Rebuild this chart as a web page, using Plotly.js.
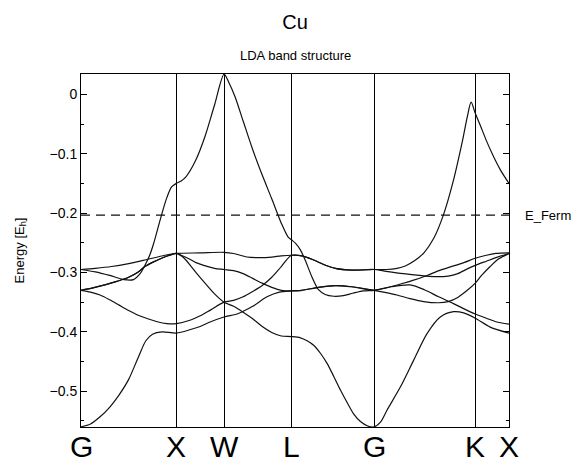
<!DOCTYPE html>
<html>
<head>
<meta charset="utf-8">
<script src="https://cdn.plot.ly/plotly-3.0.1.min.js"></script>
<style>html,body{margin:0;padding:0;background:#fff;}#chart{width:577px;height:462px;}</style>
</head>
<body>
<div id="chart"></div>
<script>
// High-symmetry points along the path (k-distance, units of 2pi/a)
const kNodes = [0, 1, 1.5, 2.2071, 3.0731, 4.1338, 4.4874];
const kLabels = ['G', 'X', 'W', 'L', 'G', 'K', 'X'];

// Fermi energy [Hartree]
const eFermi = -0.2034;

// Band energies [Hartree]
const k1 = [0,0.1,0.2,0.3,0.4,0.5,0.6,0.68,0.75,0.85,1.0, 1.15,1.25,1.36,1.5, 1.65,1.8,1.95,2.08,2.2071, 2.317,2.49,2.666,2.84,3.0731, 3.25,3.45,3.6,3.75,3.9,4.0,4.1338, 4.25,4.35,4.4874];
const e1 = [-0.560,-0.555,-0.543,-0.527,-0.506,-0.480,-0.443,-0.415,-0.404,-0.400,-0.402, -0.396,-0.391,-0.383,-0.375, -0.369,-0.357,-0.341,-0.333,-0.331, -0.330,-0.325,-0.322,-0.324,-0.330, -0.324,-0.321,-0.329,-0.341,-0.352,-0.360,-0.370, -0.377,-0.383,-0.387];

const k2 = [0,0.1,0.2,0.3,0.4,0.5,0.6,0.7,0.8,0.9,1.0, 1.15,1.25,1.36,1.5, 1.6,1.7,1.8,1.9,2.0,2.1,2.2071, 2.317,2.439,2.55,2.666,2.84,3.0731, 3.2,3.382,3.55,3.7,3.85,3.95,4.05,4.1338, 4.25,4.35,4.4874];
const e2 = [-0.330,-0.333,-0.338,-0.346,-0.355,-0.364,-0.372,-0.378,-0.383,-0.386,-0.386, -0.380,-0.373,-0.363,-0.350, -0.347,-0.341,-0.332,-0.322,-0.308,-0.290,-0.271, -0.272,-0.279,-0.287,-0.293,-0.296,-0.295, -0.298,-0.302,-0.305,-0.307,-0.306,-0.302,-0.294,-0.288, -0.281,-0.275,-0.268];

const k3 = [0,0.125,0.25,0.375,0.5,0.6,0.67,0.75,0.845,0.93,1.0, 1.05,1.1,1.15,1.2,1.3,1.4,1.5, 1.6,1.7,1.8,1.9,2.0,2.1,2.2071, 2.3,2.37,2.439,2.51,2.58,2.65,2.72,2.79,2.858,2.93,3.0,3.0731, 3.14,3.208,3.348,3.487,3.628,3.767,3.907,4.012,4.1338, 4.29,4.4874];
const e3 = [-0.330,-0.326,-0.321,-0.315,-0.308,-0.299,-0.290,-0.283,-0.276,-0.271,-0.268, -0.272,-0.279,-0.289,-0.299,-0.318,-0.336,-0.350, -0.357,-0.367,-0.378,-0.391,-0.401,-0.407,-0.408, -0.410,-0.415,-0.4225,-0.436,-0.453,-0.475,-0.498,-0.519,-0.538,-0.551,-0.558,-0.560, -0.552,-0.532,-0.493,-0.448,-0.403,-0.375,-0.366,-0.368,-0.377, -0.392,-0.402];

const k4 = [0,0.15,0.32,0.5,0.67,0.88,1.0, 1.25,1.5, 1.6,1.74,1.88,2.0,2.1,2.2071, 2.317,2.439,2.55,2.666,2.84,3.0731, 3.2,3.313,3.4,3.5,3.6,3.7,3.8,3.9,4.0,4.05,4.09,4.1338, 4.186,4.25,4.32,4.40,4.4874];
const e4 = [-0.295,-0.293,-0.290,-0.285,-0.279,-0.271,-0.268, -0.267,-0.266, -0.268,-0.274,-0.275,-0.274,-0.272,-0.271, -0.272,-0.279,-0.287,-0.293,-0.296,-0.295, -0.295,-0.293,-0.289,-0.280,-0.266,-0.242,-0.203,-0.148,-0.078,-0.038,-0.013,-0.032, -0.052,-0.078,-0.103,-0.128,-0.150];

const k5 = [0,0.15,0.3,0.45,0.55,0.62,0.68,0.72,0.76,0.8,0.85,0.9,0.95,1.0, 1.05,1.1,1.2,1.3,1.4,1.5, 1.55,1.615,1.7,1.8,1.9,2.0,2.1,2.17,2.2071, 2.25,2.30,2.35,2.42,2.49,2.56,2.65,2.75,2.85,2.96,3.0731, 3.2,3.382,3.487,3.628,3.767,3.907,4.02,4.1338, 4.25,4.35,4.4874];
const e5 = [-0.295,-0.299,-0.305,-0.312,-0.312,-0.302,-0.285,-0.271,-0.252,-0.229,-0.200,-0.174,-0.156,-0.150, -0.146,-0.139,-0.112,-0.071,-0.018,0.034, 0.020,-0.004,-0.045,-0.093,-0.136,-0.176,-0.217,-0.240,-0.245, -0.251,-0.262,-0.279,-0.307,-0.329,-0.337,-0.340,-0.339,-0.335,-0.331,-0.330, -0.326,-0.318,-0.313,-0.305,-0.296,-0.289,-0.283,-0.276, -0.271,-0.268,-0.267];

const k6 = [0,0.125,0.25,0.375,0.5,0.6,0.67,0.75,0.845,0.93,1.0, 1.05,1.146,1.2,1.286,1.4,1.5, 1.6,1.7,1.8,1.9,2.0,2.1,2.2071, 2.317,2.49,2.666,2.84,3.0731, 3.2,3.313,3.45,3.592,3.75,3.85,3.95,4.05,4.1338, 4.2,4.29,4.38,4.4874];
const e6 = [-0.330,-0.326,-0.321,-0.315,-0.308,-0.299,-0.290,-0.283,-0.276,-0.271,-0.268, -0.271,-0.278,-0.283,-0.288,-0.293,-0.295, -0.297,-0.302,-0.310,-0.318,-0.325,-0.330,-0.331, -0.330,-0.325,-0.322,-0.324,-0.330, -0.334,-0.338,-0.344,-0.349,-0.351,-0.349,-0.342,-0.330,-0.318, -0.305,-0.290,-0.277,-0.268];

const bandK = [k1, k2, k3, k4, k5, k6];
const bandE = [e1, e2, e3, e4, e5, e6];

const traces = bandK.map((k, i) => ({
  x: k, y: bandE[i], type: 'scatter', mode: 'lines',
  line: {color: '#111', width: 1.2, shape: 'spline', smoothing: 0.8},
  hoverinfo: 'skip'
}));

traces.push({
  x: [kNodes[0], kNodes[kNodes.length - 1]], y: [eFermi, eFermi],
  type: 'scatter', mode: 'lines',
  line: {color: '#111', width: 1.2, dash: '9px,6px'},
  hoverinfo: 'skip'
});

const kAnnotations = kNodes.map((k, i) => ({
  text: kLabels[i], xref: 'x', yref: 'paper', x: k, y: 0,
  xanchor: 'center', yanchor: 'top', yshift: -1, showarrow: false,
  font: {size: 30, color: '#000'}
}));

const layout = {
  width: 577, height: 462,
  margin: {l: 81, r: 68, t: 74, b: 35},
  paper_bgcolor: '#fff', plot_bgcolor: '#fff',
  showlegend: false,
  font: {family: 'Liberation Sans, Arial, sans-serif', color: '#000'},
  title: {text: 'Cu', font: {size: 20, color: '#000'}, x: 0.5, xref: 'paper', xanchor: 'center',
          y: 1 - 22 / 462, yref: 'container', yanchor: 'middle'},
  xaxis: {
    range: [kNodes[0], kNodes[kNodes.length - 1]],
    tickmode: 'array', tickvals: kNodes, showticklabels: false, ticks: '',
    showgrid: true, gridcolor: '#000', gridwidth: 1,
    showline: true, linecolor: '#000', linewidth: 1, mirror: true, zeroline: false
  },
  yaxis: {
    range: [-0.5602, 0.0342],
    tick0: 0, dtick: 0.1, ticks: 'inside', ticklen: 6, tickcolor: '#000', tickwidth: 1,
    minor: {dtick: 0.05, ticks: 'inside', ticklen: 3, tickcolor: '#000', tickwidth: 1},
    showline: true, linecolor: '#000', linewidth: 1, mirror: 'ticks',
    showgrid: false, zeroline: false,
    tickfont: {size: 14, color: '#000'},
    title: {text: 'Energy [E<sub>h</sub>]', font: {size: 13, color: '#000'}, standoff: 22}
  },
  annotations: [
    {text: 'LDA band structure', xref: 'paper', yref: 'paper', x: 0.5, y: 1,
     xanchor: 'center', yanchor: 'bottom', yshift: 9, showarrow: false,
     font: {size: 13, color: '#000'}},
    {text: 'E_Ferm', xref: 'paper', yref: 'y', x: 1, y: eFermi,
     xanchor: 'left', yanchor: 'middle', xshift: 14, showarrow: false,
     font: {size: 13, color: '#000'}}
  ].concat(kAnnotations)
};

Plotly.newPlot('chart', traces, layout, {displayModeBar: false, staticPlot: true});
</script>
</body>
</html>
